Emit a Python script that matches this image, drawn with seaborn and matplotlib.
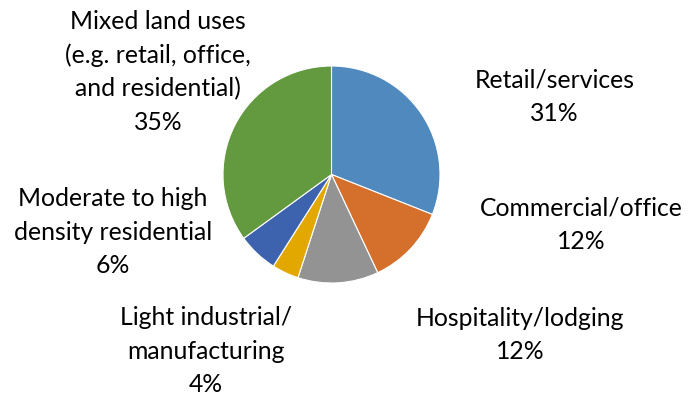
import matplotlib
matplotlib.use("Agg")
import matplotlib.pyplot as plt
import seaborn as sns

sns.set_theme(style="white")
plt.rcParams["font.family"] = ["Lato", "DejaVu Sans"]

categories = [
    "Retail/services",
    "Commercial/office",
    "Hospitality/lodging",
    "Light industrial/\nmanufacturing",
    "Moderate to high\ndensity residential",
    "Mixed land uses\n(e.g. retail, office,\nand residential)",
]
shares = [31, 12, 12, 4, 6, 35]
colors = ["#4F89BE", "#D4702C", "#939393", "#E3A800", "#3D63AE", "#63993F"]

# label anchors in pixels: horizontal centre, baseline of the last line (from top)
label_pos = [
    (554.5, 121),
    (581, 249),
    (520, 359),
    (206, 392),
    (113, 273),
    (158, 130),
]

W, H = 692, 395
fig = plt.figure(figsize=(W / 100, H / 100), dpi=100)
cx, cy, r = 331.5, 174.5, 108.5
ax = fig.add_axes([(cx - r) / W, (H - cy - r) / H, 2 * r / W, 2 * r / H])
ax.pie(
    shares,
    colors=colors,
    startangle=90,
    counterclock=False,
    radius=1,
    wedgeprops=dict(edgecolor="white", linewidth=0.8),
)
ax.set_xlim(-1, 1)
ax.set_ylim(-1, 1)
ax.set_aspect("equal")
ax.axis("off")

for cat, val, (px, py) in zip(categories, shares, label_pos):
    fig.text(
        px / W,
        1 - py / H,
        f"{cat}\n{val}%",
        ha="center",
        va="baseline",
        multialignment="center",
        fontsize=17.8,
        color="black",
        linespacing=1.54,
    )

fig.savefig("out.png", dpi=100, facecolor="white")
